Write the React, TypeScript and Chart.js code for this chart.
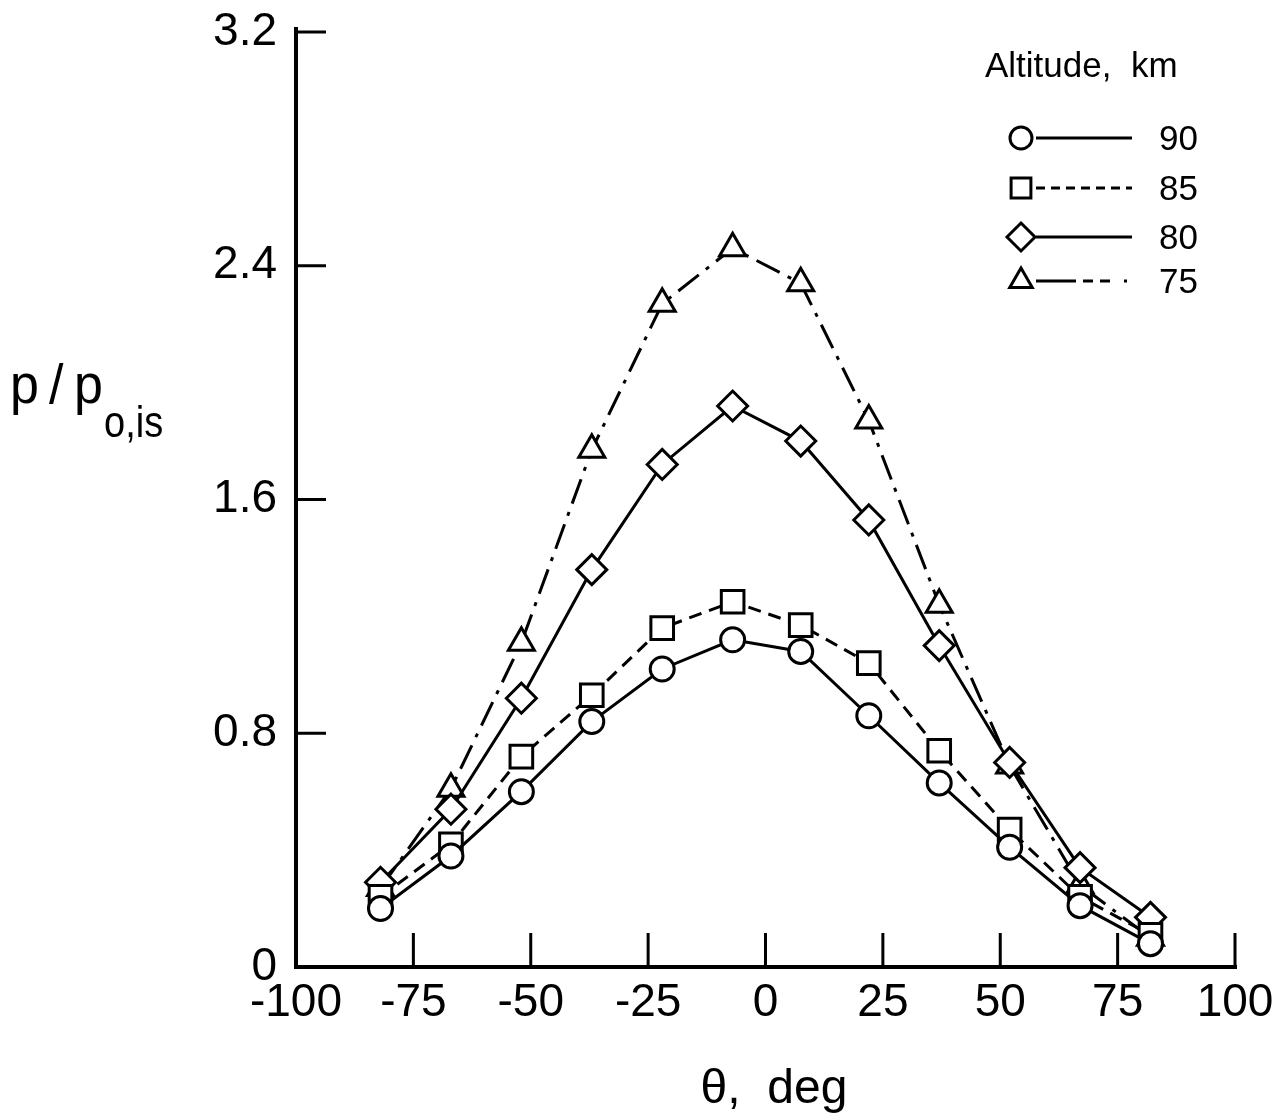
import React, { useEffect, useRef } from "react";
import { Chart, registerables } from "chart.js";

Chart.register(...registerables);

const thetaDeg = [-82, -67, -52, -37, -22, -7, 7.5, 22, 37, 52, 67, 82];
const alt90 = [0.2, 0.38, 0.6, 0.84, 1.02, 1.12, 1.08, 0.86, 0.63, 0.41, 0.21, 0.08];
const alt85 = [0.24, 0.42, 0.72, 0.93, 1.16, 1.25, 1.17, 1.04, 0.74, 0.47, 0.24, 0.11];
const alt80 = [0.29, 0.54, 0.92, 1.36, 1.72, 1.92, 1.8, 1.53, 1.1, 0.7, 0.34, 0.17];
const alt75 = [0.27, 0.61, 1.11, 1.77, 2.27, 2.46, 2.34, 1.87, 1.24, 0.69, 0.28, 0.1];

const xTicks = [-100, -75, -50, -25, 0, 25, 50, 75, 100];
const xTickLabels = ["-100", "-75", "-50", "-25", "0", "25", "50", "75", "100"];
const yTicks = [0, 0.8, 1.6, 2.4, 3.2];
const yTickLabels = ["0", "0.8", "1.6", "2.4", "3.2"];

const legendTitle = "Altitude,  km";
const legendLabels = ["90", "85", "80", "75"];
const xTitle = "\u03b8,  deg";

const FONT = "'Liberation Sans', Arial, Helvetica, sans-serif";
const INK = "#000";

const seriesStyles = [
  { data: alt90, pointStyle: "circle", radius: 12, legendR: 11, dash: [] as number[], legendDash: [] as number[] },
  { data: alt85, pointStyle: "rect", radius: 16, legendR: 14, dash: [13, 8], legendDash: [9, 6] },
  { data: alt80, pointStyle: "rectRot", radius: 15, legendR: 14, dash: [] as number[], legendDash: [] as number[] },
  { data: alt75, pointStyle: "triangle", radius: 15, legendR: 13, dash: [26, 9, 4, 9], legendDash: [40, 7, 10, 7, 10, 14, 3, 40] },
];

function drawMarker(ctx: CanvasRenderingContext2D, style: string, x: number, y: number, r: number) {
  ctx.beginPath();
  if (style === "circle") {
    ctx.arc(x, y, r, 0, Math.PI * 2);
  } else if (style === "rect") {
    const s = Math.SQRT1_2 * r;
    ctx.rect(x - s, y - s, 2 * s, 2 * s);
  } else if (style === "rectRot") {
    ctx.moveTo(x, y - r);
    ctx.lineTo(x + r, y);
    ctx.lineTo(x, y + r);
    ctx.lineTo(x - r, y);
    ctx.closePath();
  } else {
    const h = r * 1.5;
    const w = r * Math.sqrt(3);
    ctx.moveTo(x, y - r);
    ctx.lineTo(x + w / 2, y - r + h);
    ctx.lineTo(x - w / 2, y - r + h);
    ctx.closePath();
  }
  ctx.fillStyle = "#fff";
  ctx.fill();
  ctx.stroke();
}

const decorPlugin = {
  id: "decor",
  beforeDatasetsDraw(chart: any) {
    const ctx: CanvasRenderingContext2D = chart.ctx;
    const xs = chart.scales.x;
    const ys = chart.scales.y;
    const left = xs.getPixelForValue(-100);
    const right = xs.getPixelForValue(100);
    const bottom = ys.getPixelForValue(0);
    const top = ys.getPixelForValue(3.2);
    ctx.save();
    ctx.strokeStyle = INK;
    ctx.lineCap = "square";
    ctx.lineWidth = 4;
    ctx.beginPath();
    ctx.moveTo(left, top - 3);
    ctx.lineTo(left, bottom);
    ctx.lineTo(right, bottom);
    ctx.stroke();
    ctx.lineWidth = 3;
    ctx.lineCap = "butt";
    ctx.beginPath();
    for (const t of xTicks) {
      const px = xs.getPixelForValue(t);
      ctx.moveTo(px, bottom);
      ctx.lineTo(px, bottom - 34);
    }
    for (const t of yTicks) {
      const py = ys.getPixelForValue(t);
      ctx.moveTo(left, py);
      ctx.lineTo(left + 30, py);
    }
    ctx.stroke();
    ctx.restore();
  },
  afterDraw(chart: any) {
    const ctx: CanvasRenderingContext2D = chart.ctx;
    const xs = chart.scales.x;
    const ys = chart.scales.y;
    const left = xs.getPixelForValue(-100);
    const bottom = ys.getPixelForValue(0);
    ctx.save();
    ctx.fillStyle = INK;
    ctx.strokeStyle = INK;
    // tick labels
    ctx.font = `46px ${FONT}`;
    ctx.textAlign = "center";
    ctx.textBaseline = "middle";
    xTicks.forEach((t, i) => {
      ctx.fillText(xTickLabels[i], xs.getPixelForValue(t), bottom + 36);
    });
    ctx.textAlign = "right";
    yTicks.forEach((t, i) => {
      ctx.fillText(yTickLabels[i], left - 19, ys.getPixelForValue(t));
    });
    // x title
    ctx.textAlign = "center";
    ctx.textBaseline = "alphabetic";
    ctx.font = `48px ${FONT}`;
    ctx.fillText(xTitle, 774, 1103);
    // y title: p / p with subscript o,is
    ctx.textAlign = "left";
    ctx.save();
    ctx.translate(0, 403);
    ctx.scale(1, 1.08);
    ctx.font = `52px ${FONT}`;
    ctx.fillText("p", 10, 0);
    ctx.fillText("/", 49, 0);
    ctx.fillText("p", 74, 0);
    ctx.restore();
    ctx.save();
    ctx.translate(0, 437);
    ctx.scale(1, 1.15);
    ctx.font = `38px ${FONT}`;
    ctx.fillText("o,is", 104, 0);
    ctx.restore();
    // legend
    ctx.font = `35px ${FONT}`;
    ctx.fillText(legendTitle, 985, 77);
    const rows = [138, 188, 237, 281];
    ctx.font = `35px ${FONT}`;
    ctx.textBaseline = "middle";
    seriesStyles.forEach((s, i) => {
      const y = rows[i];
      ctx.lineWidth = 3;
      ctx.setLineDash(s.legendDash);
      ctx.beginPath();
      ctx.moveTo(1036, y);
      ctx.lineTo(1132, y);
      ctx.stroke();
      ctx.setLineDash([]);
      drawMarker(ctx, s.pointStyle, 1021, y, s.legendR);
      ctx.fillStyle = INK;
      ctx.fillText(legendLabels[i], 1159, y + 2);
    });
    ctx.restore();
  },
};

export default function App() {
  const ref = useRef<HTMLCanvasElement | null>(null);
  useEffect(() => {
    document.body.style.margin = "0";
    const canvas = ref.current!;
    const chart = new Chart(canvas, {
      type: "line",
      data: {
        datasets: seriesStyles.map((s, i) => ({
          label: legendLabels[i],
          data: thetaDeg.map((t, j) => ({ x: t, y: s.data[j] })),
          borderColor: INK,
          borderWidth: 3,
          borderDash: s.dash,
          backgroundColor: "#fff",
          pointStyle: s.pointStyle as any,
          pointRadius: s.radius,
          pointBorderWidth: 3,
          pointBorderColor: INK,
          pointBackgroundColor: "#fff",
          tension: 0,
          fill: false,
          clip: false as any,
        })),
      },
      options: {
        animation: false,
        responsive: false,
        maintainAspectRatio: false,
        devicePixelRatio: 1,
        layout: { padding: { left: 296, right: 52, top: 32, bottom: 152 } },
        plugins: { legend: { display: false }, tooltip: { enabled: false }, title: { display: false } },
        events: [],
        scales: {
          x: { type: "linear", min: -100, max: 100, display: false },
          y: { type: "linear", min: 0, max: 3.2, display: false },
        },
      },
      plugins: [decorPlugin],
    });
    return () => chart.destroy();
  }, []);
  return (
    <div style={{ width: 1287, height: 1119, background: "#fff" }}>
      <canvas ref={ref} width={1287} height={1119} style={{ display: "block" }} />
    </div>
  );
}
